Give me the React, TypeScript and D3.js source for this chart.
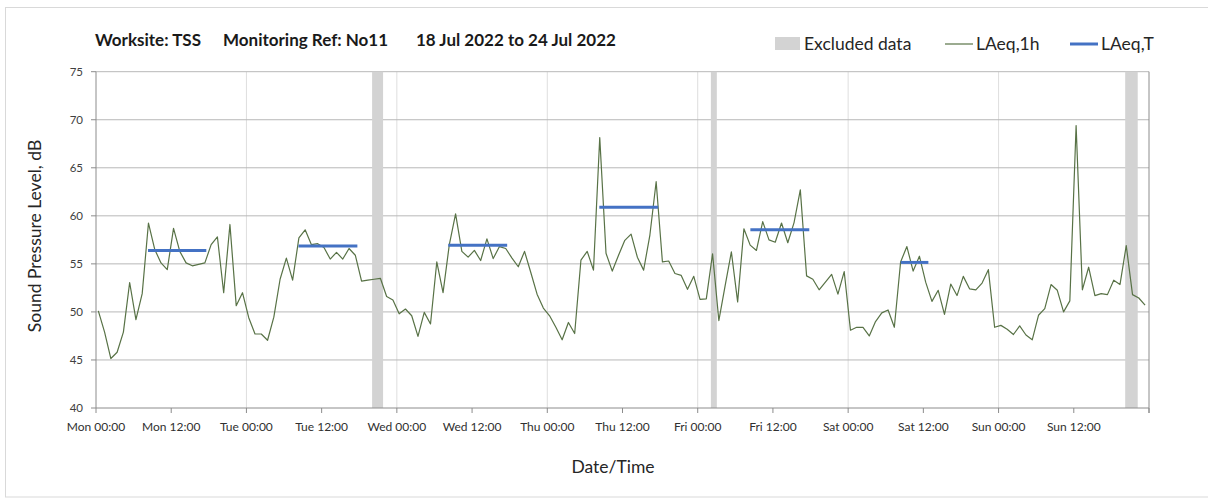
import React from "react";
import * as d3 from "d3";

// Hourly LAeq,1h values (dB) from Mon 00:00 (index = hour)
const laeq1h: number[] = [
  50.1, 47.9, 45.15, 45.8, 47.9, 53.06, 49.2, 51.9, 59.25, 56.5, 55.1, 54.4,
  58.7, 56.3, 55.1, 54.8, 54.95, 55.1, 57.0, 57.8, 52.0, 59.1, 50.65, 52.0,
  49.4, 47.7, 47.7, 47.05, 49.45, 53.4, 55.6, 53.3, 57.7, 58.55, 57.0, 57.1,
  56.7, 55.5, 56.2, 55.5, 56.6, 55.9, 53.2, 53.3, 53.4, 53.5, 51.6, 51.25,
  49.8, 50.3, 49.6, 47.45, 49.95, 48.75, 55.2, 52.0, 57.0, 60.2, 56.3, 55.7,
  56.4, 55.35, 57.6, 55.55, 56.8, 56.6, 55.6, 54.7, 56.3, 54.1, 51.85, 50.4,
  49.6, 48.4, 47.1, 48.9, 47.75, 55.4, 56.3, 54.35, 68.15, 56.1, 54.25, 55.9,
  57.45, 58.1, 55.7, 54.35, 58.0, 63.55, 55.2, 55.3, 54.0, 53.8, 52.35, 53.7,
  51.3, 51.35, 56.05, 49.1, 52.7, 56.25, 51.05, 58.65, 56.95, 56.4, 59.4, 57.5,
  57.25, 59.25, 57.2, 59.3, 62.7, 53.75, 53.4, 52.3, 53.1, 53.9, 51.85, 54.2,
  48.1, 48.4, 48.4, 47.5, 49.0, 49.9, 50.2, 48.4, 55.2, 56.8, 54.25, 55.8,
  53.1, 51.1, 52.25, 49.75, 52.9, 51.7, 53.7, 52.4, 52.3, 53.0, 54.4, 48.4,
  48.6, 48.2, 47.65, 48.55, 47.6, 47.1, 49.65, 50.35, 52.85, 52.25, 50.0, 51.15,
  69.4, 52.3, 54.65, 51.7, 51.9, 51.8, 53.3, 52.85, 56.9, 51.8, 51.45, 50.7,
];
// measurement timestamps are offset slightly past the hour (hours)
const sampleOffsetH = 0.37;

// LAeq,T daytime periods: [start hour, end hour], value
const laeqTStart: number[] = [8.3, 32.3, 56.2, 80.3, 104.4, 128.4];
const laeqTEnd: number[] = [17.6, 41.7, 65.6, 89.7, 113.8, 132.8];
const laeqTValue: number[] = [56.4, 56.85, 56.95, 60.9, 58.55, 55.15];

// Excluded periods [start hour, end hour]
const excludedStart: number[] = [44.05, 98.1, 164.2];
const excludedEnd: number[] = [45.8, 99.05, 166.2];

const days: string[] = ["Mon", "Tue", "Wed", "Thu", "Fri", "Sat", "Sun"];
const times: string[] = ["00:00", "12:00"];
const yTicks: number[] = [40, 45, 50, 55, 60, 65, 70, 75];

const FONT = "Lato, 'Open Sans', sans-serif";

export default function App() {
  const W = 1208;
  const H = 502;
  const x = d3.scaleLinear().domain([0, 168]).range([96, 1149]);
  const y = d3.scaleLinear().domain([40, 75]).range([408, 71.7]);

  const pts = laeq1h.map((v, i) => ({ t: i + sampleOffsetH, v }));
  const line = d3
    .line<{ t: number; v: number }>()
    .x((d) => x(d.t))
    .y((d) => y(d.v));

  const xTicks = d3.range(0, 169, 12);
  const dayTicks = d3.range(24, 168, 24);

  return (
    <div style={{ position: "absolute", left: 0, top: 0 }}>
      <svg width={W} height={H} style={{ display: "block", fontFamily: FONT }}>
        <rect x={0} y={0} width={W} height={H} fill="#ffffff" />
        <rect x={5.5} y={7.5} width={W + 10} height={489.5} fill="none" stroke="#d9d9d9" />

        {/* vertical day gridlines */}
        {dayTicks.map((t) => (
          <line key={"vg" + t} x1={x(t)} x2={x(t)} y1={y(75)} y2={y(40)} stroke="#dedede" strokeWidth={1} />
        ))}
        {/* horizontal gridlines */}
        {yTicks.filter((v) => v > 40).map((v) => (
          <line key={"hg" + v} x1={x(0)} x2={x(168)} y1={y(v)} y2={y(v)} stroke="#b8b8b8" strokeWidth={1} />
        ))}

        {/* excluded bands */}
        {excludedStart.map((s, i) => (
          <rect key={"ex" + i} x={x(s)} y={y(75)} width={x(excludedEnd[i]) - x(s)} height={y(40) - y(75)} fill="#d3d3d3" />
        ))}

        {/* axes */}
        <line x1={x(0)} x2={x(0)} y1={y(75)} y2={y(40)} stroke="#8c8c8c" />
        <line x1={x(168)} x2={x(168)} y1={y(75)} y2={y(40) + 5} stroke="#8c8c8c" />
        <line x1={x(0)} x2={x(168)} y1={y(40)} y2={y(40)} stroke="#8c8c8c" />
        {yTicks.map((v) => (
          <g key={"yt" + v}>
            <line x1={x(0) - 5} x2={x(0)} y1={y(v)} y2={y(v)} stroke="#8c8c8c" />
            <text x={83} y={y(v)} dy="0.35em" textAnchor="end" fontSize={11.5} fill="#404040">
              {v}
            </text>
          </g>
        ))}
        {xTicks.map((t, i) => (
          <g key={"xt" + t}>
            <line x1={x(t)} x2={x(t)} y1={y(40)} y2={y(40) + 5} stroke="#8c8c8c" />
            {t < 168 && (
              <text x={x(t)} y={431} textAnchor="middle" fontSize={12} fill="#303030">
                {days[Math.floor(i / 2)] + " " + times[i % 2]}
              </text>
            )}
          </g>
        ))}

        {/* LAeq,1h line */}
        <path d={line(pts) || ""} fill="none" stroke="#587246" strokeWidth={1.2} strokeLinejoin="round" />

        {/* LAeq,T segments */}
        {laeqTStart.map((s, i) => (
          <line key={"lt" + i} x1={x(s)} x2={x(laeqTEnd[i])} y1={y(laeqTValue[i])} y2={y(laeqTValue[i])} stroke="#4472C4" strokeWidth={3} />
        ))}

        {/* axis titles */}
        <text x={613} y={473} textAnchor="middle" fontSize={17.5} fill="#262626">
          Date/Time
        </text>
        <text transform={`translate(41,236) rotate(-90)`} textAnchor="middle" fontSize={17.5} fill="#262626">
          Sound Pressure Level, dB
        </text>

        {/* title */}
        <g fontWeight="bold" fontSize={17} fill="#1a1a1a">
          <text x={95} y={46}>Worksite: TSS</text>
          <text x={223} y={46}>Monitoring Ref: No11</text>
          <text x={416} y={46}>18 Jul 2022 to 24 Jul 2022</text>
        </g>

        {/* legend */}
        <rect x={775} y={37} width={25} height={13} fill="#d3d3d3" />
        <text x={804} y={50} fontSize={17.5} fill="#262626">Excluded data</text>
        <line x1={945} x2={973} y1={44} y2={44} stroke="#587246" strokeWidth={1.2} />
        <text x={976} y={50} fontSize={17.5} fill="#262626">LAeq,1h</text>
        <line x1={1070} x2={1098} y1={44} y2={44} stroke="#4472C4" strokeWidth={3} />
        <text x={1101} y={50} fontSize={17.5} fill="#262626">LAeq,T</text>
      </svg>
    </div>
  );
}
